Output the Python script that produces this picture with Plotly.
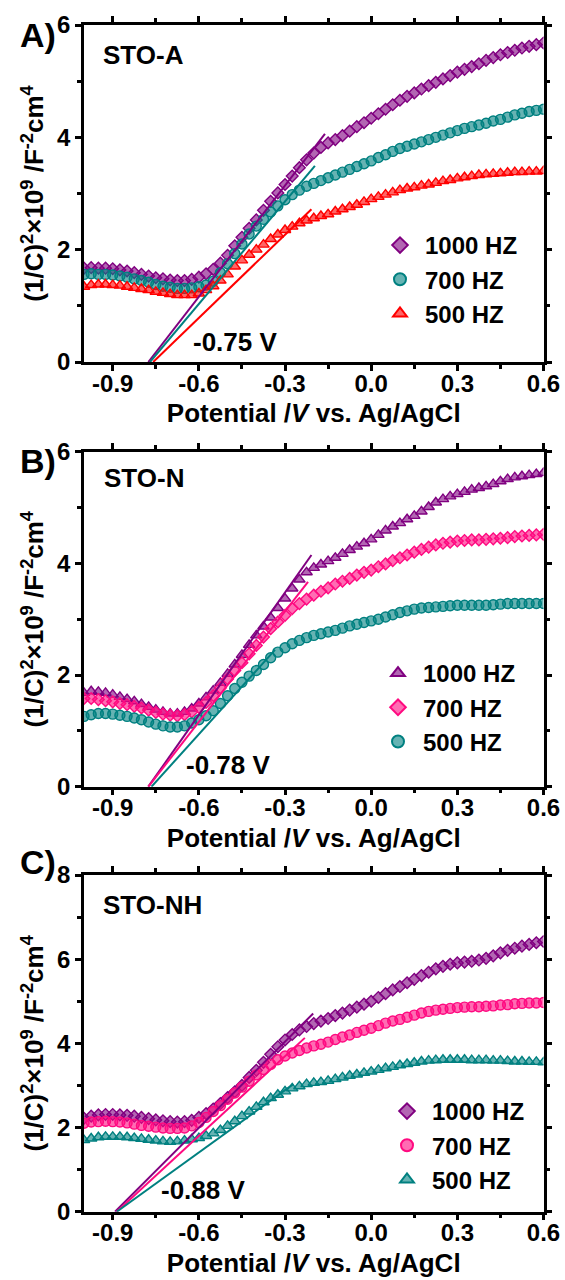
import plotly.graph_objects as go

# ---------------- data ----------------
potential = [-1.000, -0.975, -0.950, -0.925, -0.900, -0.875, -0.850, -0.825, -0.800, -0.775,
             -0.750, -0.725, -0.700, -0.675, -0.650, -0.625, -0.600, -0.575, -0.550, -0.525,
             -0.500, -0.475, -0.450, -0.425, -0.400, -0.375, -0.350, -0.325, -0.300, -0.275,
             -0.250, -0.225, -0.200, -0.175, -0.150, -0.125, -0.100, -0.075, -0.050, -0.025,
             0.000, 0.025, 0.050, 0.075, 0.100, 0.125, 0.150, 0.175, 0.200, 0.225,
             0.250, 0.275, 0.300, 0.325, 0.350, 0.375, 0.400, 0.425, 0.450, 0.475,
             0.500, 0.525, 0.550, 0.575, 0.600]

# STO-A
a_1000 = [1.67, 1.68, 1.67, 1.67, 1.66, 1.64, 1.62, 1.59, 1.56, 1.53,
          1.50, 1.48, 1.46, 1.45, 1.45, 1.47, 1.51, 1.57, 1.65, 1.76,
          1.90, 2.07, 2.22, 2.38, 2.53, 2.70, 2.86, 3.01, 3.16, 3.31,
          3.46, 3.60, 3.72, 3.82, 3.90, 3.96, 4.03, 4.11, 4.19, 4.26,
          4.34, 4.42, 4.50, 4.58, 4.66, 4.73, 4.79, 4.86, 4.92, 4.98,
          5.04, 5.10, 5.16, 5.21, 5.26, 5.31, 5.37, 5.42, 5.47, 5.51,
          5.55, 5.59, 5.62, 5.65, 5.68]
a_700 = [1.56, 1.57, 1.56, 1.56, 1.55, 1.53, 1.51, 1.48, 1.45, 1.42,
         1.38, 1.35, 1.33, 1.31, 1.31, 1.32, 1.34, 1.37, 1.44, 1.59,
         1.75, 1.93, 2.10, 2.28, 2.42, 2.54, 2.67, 2.78, 2.89, 2.98,
         3.06, 3.13, 3.18, 3.23, 3.28, 3.33, 3.38, 3.43, 3.48, 3.53,
         3.58, 3.64, 3.69, 3.75, 3.80, 3.84, 3.88, 3.92, 3.96, 4.00,
         4.04, 4.08, 4.12, 4.16, 4.19, 4.22, 4.25, 4.29, 4.32, 4.36,
         4.40, 4.43, 4.46, 4.48, 4.50]
a_500 = [1.34, 1.37, 1.38, 1.38, 1.37, 1.36, 1.34, 1.32, 1.30, 1.28,
         1.25, 1.23, 1.21, 1.19, 1.19, 1.19, 1.22, 1.28, 1.35, 1.45,
         1.56, 1.70, 1.81, 1.91, 2.00, 2.09, 2.19, 2.27, 2.35, 2.41,
         2.47, 2.52, 2.56, 2.60, 2.63, 2.68, 2.72, 2.76, 2.80, 2.85,
         2.90, 2.94, 2.98, 3.02, 3.06, 3.09, 3.11, 3.14, 3.16, 3.19,
         3.22, 3.24, 3.27, 3.29, 3.31, 3.33, 3.34, 3.35, 3.36, 3.37,
         3.38, 3.38, 3.39, 3.39, 3.40]

# STO-N
n_1000 = [1.68, 1.71, 1.70, 1.68, 1.65, 1.61, 1.57, 1.53, 1.48, 1.43,
          1.38, 1.34, 1.31, 1.31, 1.34, 1.40, 1.49, 1.60, 1.72, 1.86,
          2.02, 2.19, 2.36, 2.54, 2.71, 2.87, 3.03, 3.20, 3.37, 3.55,
          3.71, 3.84, 3.92, 3.98, 4.04, 4.10, 4.17, 4.24, 4.30, 4.36,
          4.43, 4.51, 4.59, 4.66, 4.72, 4.79, 4.85, 4.93, 5.01, 5.09,
          5.15, 5.20, 5.24, 5.28, 5.32, 5.35, 5.38, 5.42, 5.47, 5.51,
          5.54, 5.56, 5.58, 5.60, 5.62]
n_700 = [1.58, 1.58, 1.56, 1.54, 1.52, 1.49, 1.47, 1.44, 1.41, 1.37,
         1.33, 1.30, 1.28, 1.27, 1.29, 1.34, 1.42, 1.51, 1.63, 1.77,
         1.93, 2.08, 2.22, 2.38, 2.53, 2.68, 2.83, 2.95, 3.07, 3.19,
         3.28, 3.36, 3.43, 3.50, 3.56, 3.63, 3.68, 3.73, 3.79, 3.84,
         3.88, 3.94, 3.99, 4.05, 4.10, 4.15, 4.20, 4.25, 4.29, 4.33,
         4.36, 4.38, 4.40, 4.41, 4.42, 4.42, 4.43, 4.44, 4.45, 4.46,
         4.48, 4.49, 4.50, 4.51, 4.52]
n_500 = [1.26, 1.29, 1.31, 1.31, 1.30, 1.28, 1.26, 1.23, 1.20, 1.16,
         1.12, 1.09, 1.07, 1.07, 1.09, 1.14, 1.20, 1.27, 1.36, 1.49,
         1.63, 1.76, 1.87, 1.98, 2.08, 2.19, 2.31, 2.41, 2.49, 2.56,
         2.62, 2.67, 2.71, 2.74, 2.77, 2.80, 2.84, 2.88, 2.91, 2.94,
         2.97, 3.00, 3.04, 3.08, 3.12, 3.15, 3.18, 3.20, 3.21, 3.22,
         3.23, 3.24, 3.25, 3.25, 3.25, 3.25, 3.25, 3.26, 3.27, 3.28,
         3.28, 3.28, 3.28, 3.28, 3.28]

# STO-NH
nh_1000 = [2.22, 2.27, 2.30, 2.31, 2.31, 2.30, 2.29, 2.27, 2.24, 2.21,
           2.18, 2.16, 2.14, 2.13, 2.14, 2.17, 2.24, 2.33, 2.44, 2.57,
           2.71, 2.85, 3.00, 3.19, 3.36, 3.55, 3.74, 3.92, 4.08, 4.21,
           4.32, 4.40, 4.47, 4.53, 4.59, 4.66, 4.72, 4.79, 4.86, 4.93,
           5.00, 5.09, 5.18, 5.27, 5.35, 5.44, 5.52, 5.61, 5.69, 5.77,
           5.83, 5.88, 5.91, 5.93, 5.95, 5.98, 6.02, 6.08, 6.15, 6.21,
           6.26, 6.31, 6.35, 6.39, 6.42]
nh_700 = [2.10, 2.13, 2.14, 2.15, 2.14, 2.13, 2.11, 2.08, 2.05, 2.03,
          2.01, 1.99, 1.98, 1.98, 1.99, 2.04, 2.12, 2.24, 2.38, 2.52,
          2.67, 2.82, 2.96, 3.10, 3.25, 3.38, 3.50, 3.61, 3.70, 3.77,
          3.83, 3.89, 3.94, 3.98, 4.03, 4.09, 4.15, 4.20, 4.26, 4.31,
          4.36, 4.42, 4.48, 4.53, 4.57, 4.62, 4.67, 4.72, 4.76, 4.79,
          4.81, 4.83, 4.85, 4.86, 4.87, 4.87, 4.88, 4.89, 4.91, 4.92,
          4.94, 4.95, 4.96, 4.96, 4.97]
nh_500 = [1.70, 1.74, 1.77, 1.78, 1.78, 1.78, 1.77, 1.75, 1.73, 1.71,
          1.69, 1.67, 1.66, 1.67, 1.69, 1.72, 1.75, 1.80, 1.86, 1.94,
          2.04, 2.15, 2.27, 2.38, 2.49, 2.60, 2.70, 2.78, 2.86, 2.93,
          2.98, 3.03, 3.06, 3.08, 3.11, 3.15, 3.19, 3.23, 3.26, 3.30,
          3.33, 3.37, 3.41, 3.44, 3.48, 3.51, 3.54, 3.57, 3.59, 3.60,
          3.61, 3.61, 3.61, 3.61, 3.60, 3.60, 3.60, 3.59, 3.59, 3.58,
          3.57, 3.57, 3.56, 3.56, 3.55]

# linear fits: [x-intercept, x_end], [0, y_end]
fit_a_x = [[-0.776, -0.161], [-0.770, -0.196], [-0.759, -0.208]]
fit_a_y = [[0, 4.06], [0, 3.49], [0, 2.72]]
fit_n_x = [[-0.776, -0.208], [-0.776, -0.220], [-0.765, -0.335]]
fit_n_y = [[0, 4.15], [0, 3.67], [0, 2.45]]
fit_nh_x = [[-0.892, -0.202], [-0.886, -0.231], [-0.886, -0.271]]
fit_nh_y = [[0, 4.71], [0, 4.13], [0, 3.03]]

series_names = ["1000 HZ", "700 HZ", "500 HZ"]
panel_titles = ["STO-A", "STO-N", "STO-NH"]
panel_letters = ["A)", "B)", "C)"]
flatband_labels = ["-0.75 V", "-0.78 V", "-0.88 V"]

x_tickvals = [-0.9, -0.6, -0.3, 0.0, 0.3, 0.6]
x_ticktext = ["-0.9", "-0.6", "-0.3", "0.0", "0.3", "0.6"]
x_minor = [-0.75, -0.45, -0.15, 0.15, 0.45]
y_ranges = [[0, 6], [0, 6], [0, 8]]

# ---------------- style ----------------
PURPLE = "#800080"
TEAL = "#008080"
RED = "#FF0000"
PINK = "#FF0A80"
FONT = "Arial, 'Liberation Sans', sans-serif"

def fill(c, a=0.6):
    c = c.lstrip("#")
    r, g, b = int(c[0:2], 16), int(c[2:4], 16), int(c[4:6], 16)
    return f"rgba({r},{g},{b},{a})"

panels = [
    dict(data=[a_1000, a_700, a_500], colors=[PURPLE, TEAL, RED],
         symbols=["diamond", "circle", "triangle-up"], fx=fit_a_x, fy=fit_a_y),
    dict(data=[n_1000, n_700, n_500], colors=[PURPLE, PINK, TEAL],
         symbols=["triangle-up", "diamond", "circle"], fx=fit_n_x, fy=fit_n_y),
    dict(data=[nh_1000, nh_700, nh_500], colors=[PURPLE, PINK, TEAL],
         symbols=["diamond", "circle", "triangle-up"], fx=fit_nh_x, fy=fit_nh_y),
]
sym_size = {"diamond": 9, "circle": 10, "triangle-up": 10}

W, H = 565, 1280
x_px = [84, 543.5]
y_px = [[25, 362], [451.7, 786.7], [875, 1211.7]]
legend_px = [(375, 223), (373, 651), (382, 1089)]

fig = go.Figure()
layout = dict(width=W, height=H, autosize=False,
              margin=dict(l=0, r=0, t=0, b=0, autoexpand=False),
              paper_bgcolor="white", plot_bgcolor="white",
              font=dict(family=FONT, color="black", size=22, weight="bold"),
              annotations=[])

for i, p in enumerate(panels):
    sfx = "" if i == 0 else str(i + 1)
    xa, ya = "x" + sfx, "y" + sfx
    leg = "legend" + sfx
    for j in range(3):
        col = p["colors"][j]
        sym = p["symbols"][j]
        fig.add_trace(go.Scatter(
            x=potential, y=p["data"][j], mode="markers", name=series_names[j],
            marker=dict(symbol=sym, size=sym_size[sym], color=fill(col),
                        line=dict(color=col, width=1.4)),
            xaxis=xa, yaxis=ya, legend=leg, showlegend=True))
    for j in range(3):
        fig.add_trace(go.Scatter(
            x=p["fx"][j], y=p["fy"][j], mode="lines",
            line=dict(color=p["colors"][j], width=2),
            xaxis=xa, yaxis=ya, showlegend=False, hoverinfo="skip"))

    top, bot = y_px[i]
    dom_y = [1 - bot / H, 1 - top / H]
    layout["xaxis" + sfx] = dict(
        domain=[x_px[0] / W, x_px[1] / W], range=[-1.0, 0.6], anchor=ya,
        automargin=False,
        tickmode="array", tickvals=x_tickvals, ticktext=x_ticktext,
        ticks="outside", ticklen=6, tickwidth=2.5, tickcolor="black",
        ticklabelstandoff=-8,
        minor=dict(tickvals=x_minor, ticks="outside", ticklen=4, tickwidth=2.5, tickcolor="black"),
        showline=True, linewidth=2.5, linecolor="black", mirror="allticks",
        showgrid=False, zeroline=False,
        tickfont=dict(size=24, family=FONT, weight="bold"),
        title=dict(text="Potential /<i>V</i> vs. Ag/AgCl",
                   font=dict(size=26, family=FONT, weight="bold"), standoff=9))
    layout["yaxis" + sfx] = dict(
        domain=dom_y, range=y_ranges[i], anchor=xa,
        automargin=False,
        tickmode="linear", tick0=0, dtick=2,
        ticks="outside", ticklen=6, tickwidth=2.5, tickcolor="black",
        minor=dict(dtick=1, tick0=0, ticks="outside", ticklen=4, tickwidth=2.5, tickcolor="black"),
        showline=True, linewidth=2.5, linecolor="black", mirror="allticks",
        showgrid=False, zeroline=False,
        tickfont=dict(size=24, family=FONT, weight="bold"),
        title=dict(text="(1/C)<sup>2</sup>×10<sup>9</sup> /F<sup>-2</sup>cm<sup>4</sup>",
                   font=dict(size=26, family=FONT, weight="bold"), standoff=6))
    lx, ly = legend_px[i]
    layout[leg] = dict(x=lx / W, y=1 - ly / H, xanchor="left", yanchor="top",
                       bgcolor="rgba(0,0,0,0)", borderwidth=0,
                       font=dict(size=24, family=FONT, weight="bold", color="black"),
                       itemsizing="constant", tracegroupgap=0, itemwidth=40)

    xd = "x" + sfx + " domain"
    yd = "y" + sfx + " domain"
    layout["annotations"] += [
        dict(text=panel_titles[i], xref=xd, yref=yd, x=[0.036, 0.039, 0.036][i],
             y=[0.911, 0.921, 0.911][i], xanchor="left", yanchor="middle", showarrow=False,
             font=dict(size=26, family=FONT, weight="bold")),
        dict(text=flatband_labels[i], xref=xd, yref=yd, x=[0.329, 0.313, 0.259][i],
             y=[0.060, 0.065, 0.064][i], xanchor="center", yanchor="middle", showarrow=False,
             font=dict(size=26, family=FONT, weight="bold")),
        dict(text=panel_letters[i], xref=xd, yref=yd, x=-0.1436,
             y=[0.970, 0.972, 1.039][i], xanchor="left", yanchor="middle", showarrow=False,
             font=dict(size=34, family=FONT, weight="bold")),
    ]

fig.update_layout(**layout)
fig.write_html("out.html")
